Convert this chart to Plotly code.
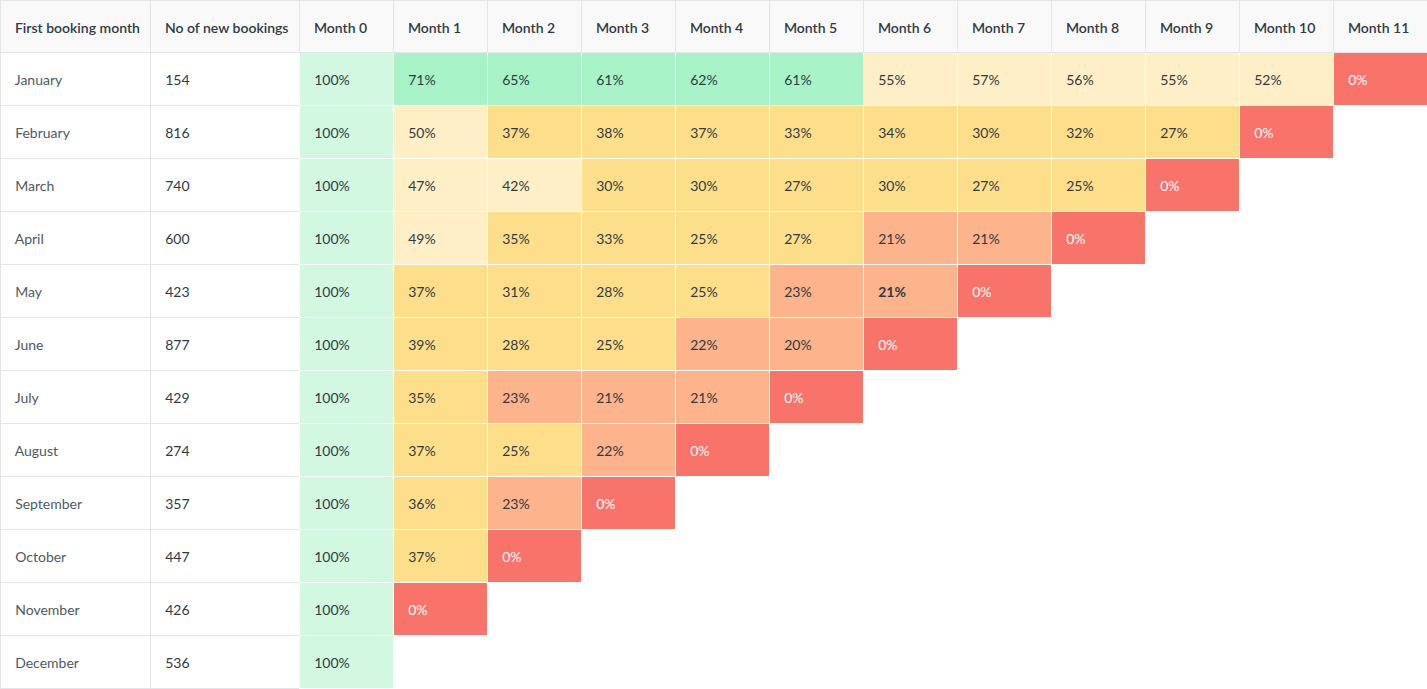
import plotly.graph_objects as go

months = ["January", "February", "March", "April", "May", "June",
          "July", "August", "September", "October", "November", "December"]
new_bookings = [154, 816, 740, 600, 423, 877, 429, 274, 357, 447, 426, 536]

# retention per cohort, Month 0 .. Month n
jan = [100, 71, 65, 61, 62, 61, 55, 57, 56, 55, 52, 0]
feb = [100, 50, 37, 38, 37, 33, 34, 30, 32, 27, 0]
mar = [100, 47, 42, 30, 30, 27, 30, 27, 25, 0]
apr = [100, 49, 35, 33, 25, 27, 21, 21, 0]
may = [100, 37, 31, 28, 25, 23, 21, 0]
jun = [100, 39, 28, 25, 22, 20, 0]
jul = [100, 35, 23, 21, 21, 0]
aug = [100, 37, 25, 22, 0]
sep = [100, 36, 23, 0]
oct_ = [100, 37, 0]
nov = [100, 0]
dec = [100]
retention = [jan, feb, mar, apr, may, jun, jul, aug, sep, oct_, nov, dec]

headers = ["First booking month", "No of new bookings"] + [f"Month {i}" for i in range(12)]

GRID = "#e3e5e9"
TEXT = "#2e3a46"
LABEL = "#4f5961"


def cell_color(v):
    if v is None:
        return "white"
    if v == 100:
        return "#d3f8e1"
    if v >= 60:
        return "#a7f3c7"
    if v >= 40:
        return "#ffefc7"
    if v >= 24:
        return "#fddf8b"
    if v > 0:
        return "#fdb38b"
    return "#f8736a"


def label(s):
    # blank first line pushes the text down to the middle of the row
    return "&nbsp;<br><span style='font-size:14px'>&nbsp;&nbsp;" + s + "</span>"


col_text = [[label(m) for m in months], [label(str(n)) for n in new_bookings]]
col_fill = [["white"] * 12, ["white"] * 12]
col_line = [[GRID] * 12, [GRID] * 12]
col_font = [[LABEL] * 12, [TEXT] * 12]

for j in range(12):
    texts, fills, lines, fonts = [], [], [], []
    for i, row in enumerate(retention):
        v = row[j] if j < len(row) else None
        if v is None:
            texts.append("")
        elif i == 4 and j == 6:
            texts.append(label(f"<b>{v}%</b>"))
        else:
            texts.append(label(f"{v}%"))
        fills.append(cell_color(v))
        lines.append("white")
        fonts.append("white" if v == 0 else TEXT)
    col_text.append(texts)
    col_fill.append(fills)
    col_line.append(lines)
    col_font.append(fonts)

fig = go.Figure(go.Table(
    columnwidth=[150, 149] + [94] * 12,
    header=dict(
        values=[label(h) for h in headers],
        fill_color="#f9f9f9",
        line_color=GRID,
        align="left",
        height=52,
        font=dict(family="Lato, sans-serif", size=11, color=TEXT, weight=600),
    ),
    cells=dict(
        values=col_text,
        fill_color=col_fill,
        line_color=col_line,
        align="left",
        height=53,
        font=dict(family="Lato, sans-serif", size=11, color=col_font),
    ),
    domain=dict(x=[0, 1], y=[0, 1]),
))

fig.update_layout(
    width=1427, height=689,
    margin=dict(l=0, r=0, t=0, b=0),
    paper_bgcolor="white",
)

fig.write_html("out.html", config={"displayModeBar": False},
               post_script="document.body.style.margin = '0';")
